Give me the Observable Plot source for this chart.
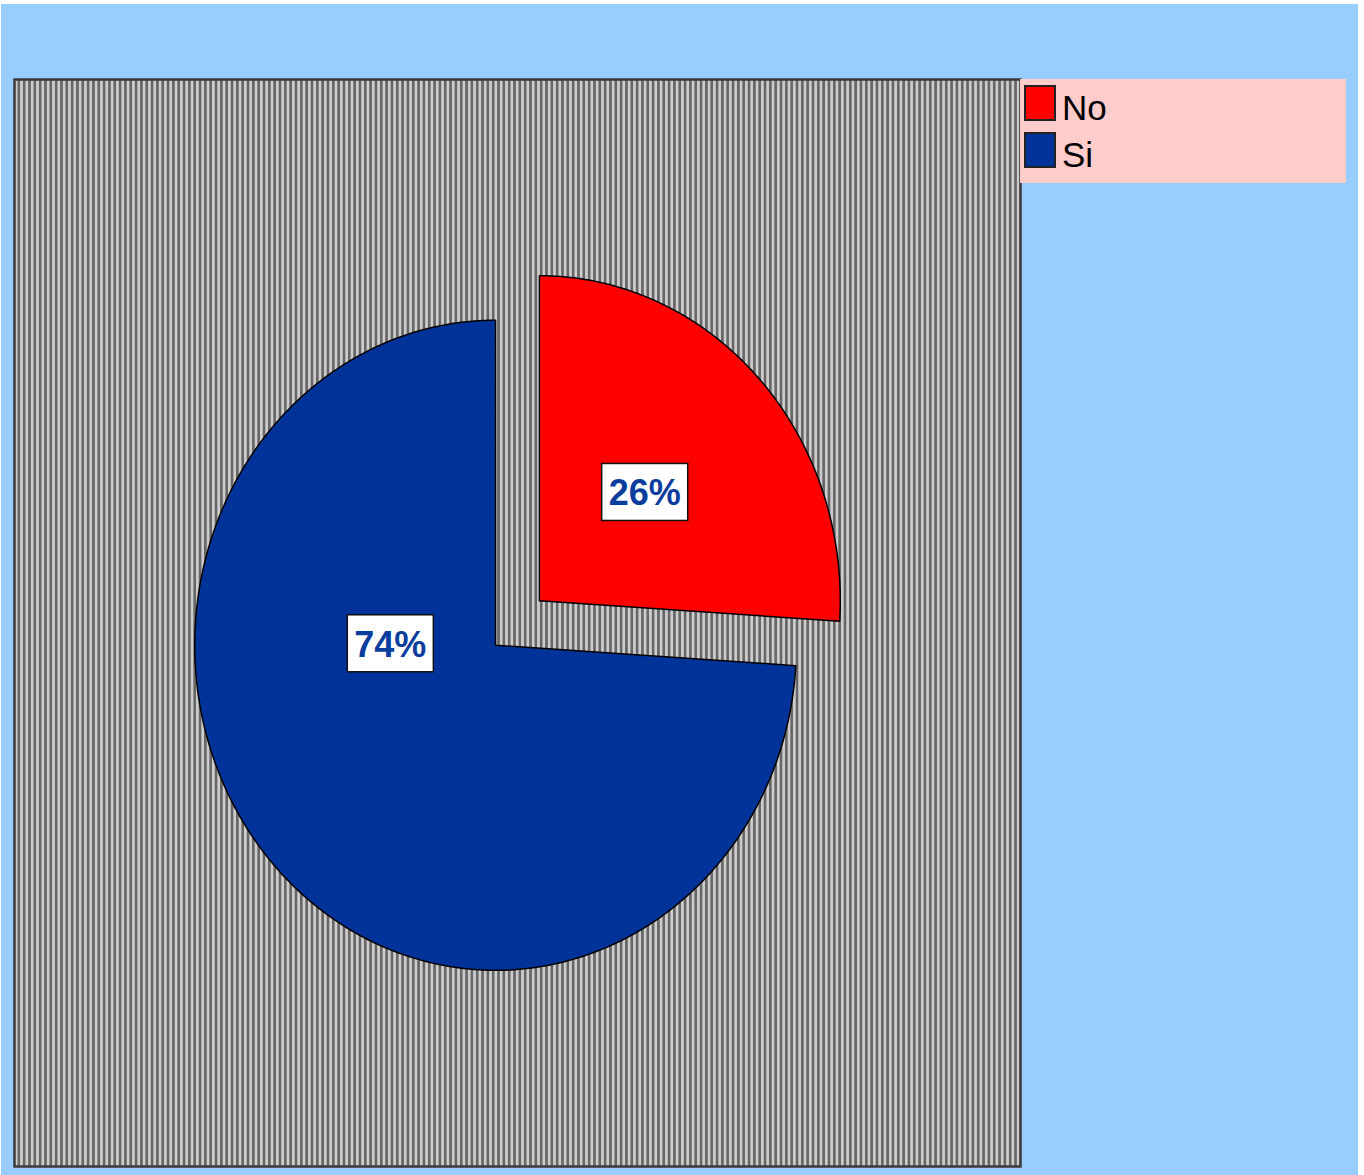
<!DOCTYPE html>
<html><head><meta charset="utf-8">
<script src="https://cdn.jsdelivr.net/npm/d3@7"></script>
<script src="https://cdn.jsdelivr.net/npm/@observablehq/plot@0.6"></script>
<style>
html,body{margin:0;padding:0;background:#fff;}
#page{position:relative;width:1364px;height:1175px;overflow:hidden;font-family:"Liberation Sans",Arial,sans-serif;}
#bg{position:absolute;left:1px;top:4px;width:1357px;height:1171px;background:#99CCFF;}
#chart{position:absolute;left:1px;top:4px;}
#legend{position:absolute;left:1020px;top:79px;width:326px;height:104px;background:#FFCCCC;}
.item{position:absolute;left:0;width:326px;height:36px;}
.sw{position:absolute;left:4px;top:0;width:32px;height:36px;box-sizing:border-box;border:2px solid #222;}
.lt{position:absolute;left:42px;top:5px;font-size:35px;line-height:36px;color:#000;}
</style></head>
<body><div id="page"><div id="bg"></div><div id="chart"></div><div id="legend"></div></div>
<script>
// Data
const categories = ["No", "Si"];
const values = [26, 74];
const labels = ["26%", "74%"];
const colors = ["#FF0000", "#003399"];
const explode = [0.2, 0];

// Build slice outlines (unit radius, angle 0 at top, clockwise)
const arcs = d3.pie().sort(null)(values);
const rows = [];
const labelRows = [];
arcs.forEach((a, i) => {
  const category = categories[i];
  const mid = (a.startAngle + a.endAngle) / 2;
  const ox = explode[i] * Math.sin(mid), oy = explode[i] * Math.cos(mid);
  rows.push({category, x: ox, y: oy});
  const n = Math.max(2, Math.ceil((a.endAngle - a.startAngle) / (Math.PI / 360)));
  for (let k = 0; k <= n; k++) {
    const t = a.startAngle + (a.endAngle - a.startAngle) * k / n;
    rows.push({category, x: ox + Math.sin(t), y: oy + Math.cos(t)});
  }
  rows.push({category, x: ox, y: oy});
  labelRows.push({
    category, label: labels[i],
    x: ox + 0.48 * Math.sin(mid),
    y: values[i] > 50 ? oy : oy + 0.48 * Math.cos(mid)
  });
});

const [x0, x1] = d3.extent(rows, d => d.x);
const [y0, y1] = d3.extent(rows, d => d.y);
const cx = (x0 + x1) / 2, cy = (y0 + y1) / 2;
const half = 1.672;

const W = 1357, H = 1171;
const font = '"Liberation Sans", Arial, sans-serif';
const svg = Plot.plot({
  width: W, height: H,
  marginLeft: 13, marginRight: 338, marginTop: 75, marginBottom: 9,
  style: {background: "transparent", fontFamily: font, overflow: "visible"},
  x: {domain: [cx - half, cx + half], axis: null},
  y: {domain: [cy - half, cy + half], axis: null},
  color: {domain: categories, range: colors},
  marks: [
    Plot.frame({fill: "#999999", stroke: "#3a3a3a", strokeWidth: 2.5}),
    Plot.line(rows, {x: "x", y: "y", z: "category", fill: "category", stroke: "#000", strokeWidth: 1.5, strokeLinejoin: "round"}),
    Plot.text(labelRows, {x: "x", y: "y", text: "label", fill: "#0B3D9E", fontSize: 36, fontWeight: "bold", fontFamily: font})
  ]
});
document.getElementById("chart").appendChild(svg);

// Stripe pattern for the plot area
const s = d3.select(svg);
const defs = s.insert("defs", ":first-child");
const pat = defs.append("pattern").attr("id", "stripes").attr("patternUnits", "userSpaceOnUse")
  .attr("width", 5.33).attr("height", 10);
pat.append("rect").attr("width", 5.33).attr("height", 10).attr("fill", "#CDCDCD");
pat.append("rect").attr("width", 2.67).attr("height", 10).attr("fill", "#676767");
s.selectAll('g[aria-label="frame"]').attr("fill", "url(#stripes)");
s.selectAll('g[aria-label="frame"] rect, rect[aria-label="frame"]').attr("fill", "url(#stripes)");

// Boxes behind the percentage labels
s.selectAll('g[aria-label="text"] text').each(function () {
  const b = this.getBBox();
  const bw = b.width + 14, bh = 57;
  const r = document.createElementNS("http://www.w3.org/2000/svg", "rect");
  r.setAttribute("x", b.x + b.width / 2 - bw / 2);
  r.setAttribute("y", b.y + b.height / 2 - bh / 2 - 1);
  r.setAttribute("width", bw);
  r.setAttribute("height", bh);
  r.setAttribute("fill", "#fff");
  r.setAttribute("stroke", "#111");
  r.setAttribute("stroke-width", 1.5);
  const tr = this.getAttribute("transform");
  if (tr) r.setAttribute("transform", tr);
  this.parentNode.insertBefore(r, this);
});

// Legend
const leg = d3.select("#legend");
categories.forEach((c, i) => {
  const it = leg.append("div").attr("class", "item").style("top", (6 + i * 47) + "px");
  it.append("div").attr("class", "sw").style("background", colors[i]);
  it.append("div").attr("class", "lt").text(c);
});
</script>
</body></html>
